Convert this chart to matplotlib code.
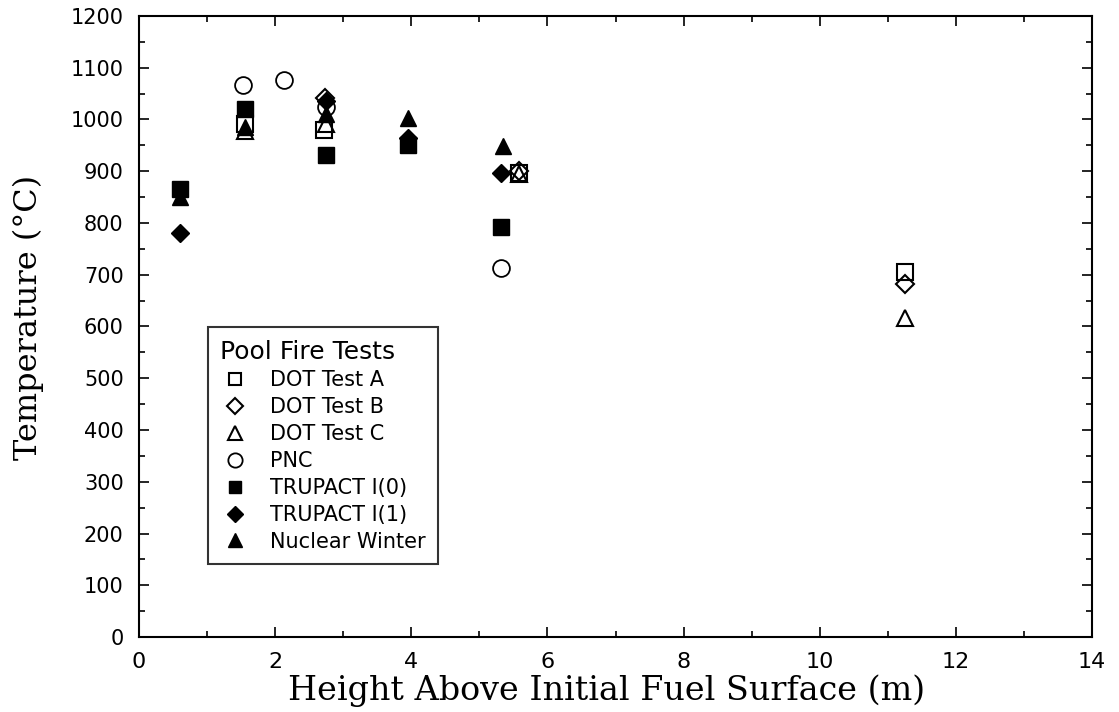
import matplotlib
matplotlib.use("Agg")
import matplotlib.pyplot as plt
from matplotlib.ticker import MultipleLocator

# ---- data ----
dot_a_x = [1.55, 2.72, 5.58, 11.25]
dot_a_y = [992, 980, 897, 706]
dot_b_x = [2.73, 5.58, 11.25]
dot_b_y = [1042, 900, 683]
dot_c_x = [1.55, 2.75, 5.58, 11.25]
dot_c_y = [978, 992, 895, 617]
pnc_x = [1.53, 2.13, 2.75, 5.32]
pnc_y = [1067, 1076, 1025, 714]
tru0_x = [0.60, 1.55, 2.75, 3.95, 5.32]
tru0_y = [865, 1021, 931, 950, 792]
tru1_x = [0.60, 2.75, 3.95, 5.32]
tru1_y = [780, 1035, 965, 896]
nw_x = [0.60, 1.55, 2.75, 3.95, 5.35]
nw_y = [850, 985, 1010, 1002, 948]

x_ticks = [0, 2, 4, 6, 8, 10, 12, 14]
y_ticks = list(range(0, 1201, 100))

fig = plt.figure(figsize=(11.19, 7.12), dpi=100)
ax = fig.add_axes([139/1119, 75/712, 953/1119, 621/712])

ms = 11
# filled series first
ax.plot(tru0_x, tru0_y, 's', color='black', ms=ms, label='TRUPACT I(0)', zorder=3)
ax.plot(tru1_x, tru1_y, 'D', color='black', ms=ms*0.85, label='TRUPACT I(1)', zorder=3)
ax.plot(nw_x, nw_y, '^', color='black', ms=ms*1.05, label='Nuclear Winter', zorder=3)
# hollow series
ax.plot(dot_a_x, dot_a_y, 's', mfc='none', mec='black', mew=1.5, ms=ms, label='DOT Test A', zorder=4)
ax.plot(dot_b_x, dot_b_y, 'D', mfc='none', mec='black', mew=1.5, ms=ms*0.85, label='DOT Test B', zorder=4)
ax.plot(dot_c_x, dot_c_y, '^', mfc='none', mec='black', mew=1.5, ms=ms*1.05, label='DOT Test C', zorder=4)
ax.plot(pnc_x, pnc_y, 'o', mfc='none', mec='black', mew=1.3, ms=ms*1.1, label='PNC', zorder=4)

ax.set_xlim(0, 14)
ax.set_ylim(0, 1200)
ax.set_xticks(x_ticks)
ax.set_yticks(y_ticks)
ax.xaxis.set_minor_locator(MultipleLocator(1))
ax.yaxis.set_minor_locator(MultipleLocator(50))
ax.tick_params(which='both', direction='in', top=True, right=True, width=1.2, colors='black')
ax.tick_params(which='major', length=7)
ax.tick_params(which='minor', length=4)
ax.tick_params(axis='y', which='major', labelsize=15, pad=11)
ax.tick_params(axis='x', which='major', labelsize=16, pad=11)
for lab in ax.get_yticklabels() + ax.get_xticklabels():
    lab.set_family('DejaVu Sans')
for s in ax.spines.values():
    s.set_linewidth(1.5)

ax.set_xlabel('Height Above Initial Fuel Surface (m)', family='DejaVu Serif', fontsize=24)
ax.set_ylabel('Temperature (°C)', family='DejaVu Serif', fontsize=23)
ax.xaxis.label.set_va('center')
ax.yaxis.label.set_va('center')
ax.xaxis.set_label_coords(0.491, -0.087)
ax.yaxis.set_label_coords(-0.116, 0.514)

handles, labels = ax.get_legend_handles_labels()
order = ['DOT Test A', 'DOT Test B', 'DOT Test C', 'PNC', 'TRUPACT I(0)', 'TRUPACT I(1)', 'Nuclear Winter']
hmap = dict(zip(labels, handles))
leg = ax.legend([hmap[k] for k in order], order, title='Pool Fire Tests',
                loc='upper left', bbox_to_anchor=(0.072, 0.499), fontsize=15,
                title_fontsize=18, frameon=True, fancybox=False, edgecolor='black',
                borderpad=0.6, labelspacing=0.33, handletextpad=1.0, handlelength=1.4,
                borderaxespad=0, markerscale=0.85)
leg.get_frame().set_linewidth(1.5)
leg._legend_box.align = 'left'

fig.savefig('out.png', dpi=100)
